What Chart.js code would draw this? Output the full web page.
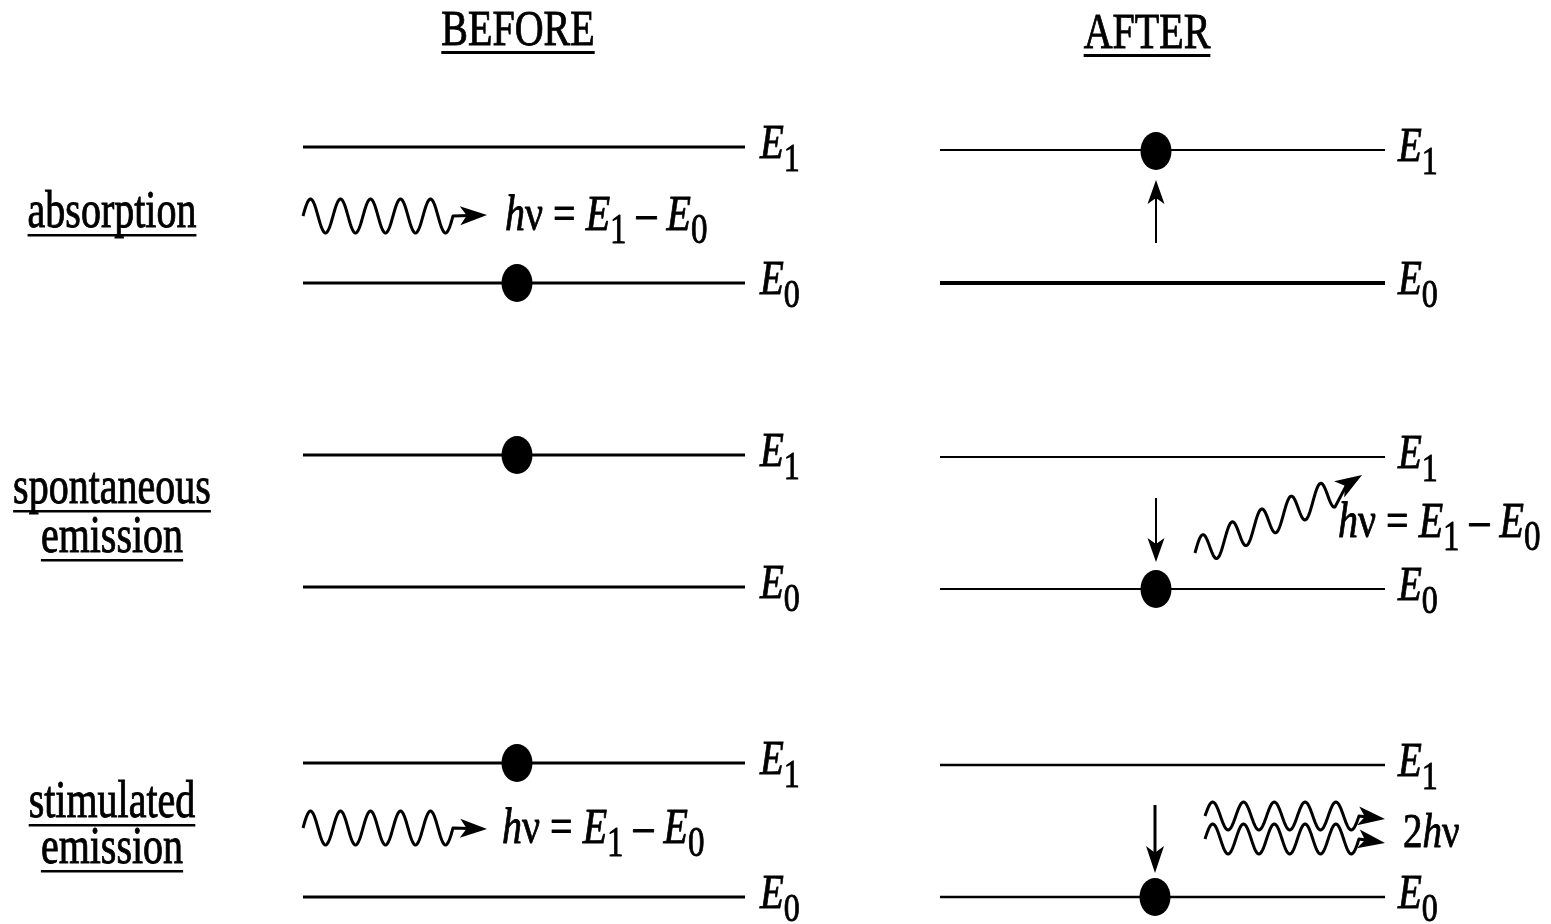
<!DOCTYPE html>
<html>
<head>
<meta charset="utf-8">
<script src="https://cdn.jsdelivr.net/npm/chart.js@4.4.0/dist/chart.umd.min.js"></script>
<style>
  html, body { margin: 0; padding: 0; background: #fff; }
  #wrap { width: 1551px; height: 924px; }
</style>
</head>
<body>
<div id="wrap"><canvas id="c"></canvas></div>
<script>
const SERIF = '"Liberation Serif", "DejaVu Serif", serif';

// diagram values, in picture units (x to the right, y downwards)
const headers = ['BEFORE', 'AFTER'];
const headerX = [518, 1147];
const headerY = [45, 48];
const rowNames = [['absorption'], ['spontaneous', 'emission'], ['stimulated', 'emission']];
const rowNameY = [[227], [503, 552], [817, 863]];
const beforeX = [303, 745];
const afterX = [940, 1385];
const beforeE1 = [147, 455, 763];
const beforeE0 = [283, 587, 897];
const afterE1 = [150, 457, 765];
const afterE0 = [283, 589, 897];
const beforeDots = [{ x: 517, y: 283 }, { x: 517, y: 455 }, { x: 517, y: 763 }];
const afterDots = [{ x: 1156, y: 151 }, { x: 1156, y: 589 }, { x: 1155, y: 897 }];
const jumps = [[1156, 243, 180], [1156, 498, 562], [1155, 805, 873]]; // x, from y, to y
const photons = [
  { from: [303, 216], to: [453, 216], n: 5, amp: 17, tip: [487, 215] },
  { from: [1195, 553], to: [1335, 492], n: 4.75, amp: 15, tip: [1362, 475] },
  { from: [303, 828], to: [453, 828], n: 5, amp: 17, tip: [487, 829] },
  { from: [1205, 816], to: [1359, 816], n: 5, amp: 14, tip: [1385, 819] },
  { from: [1205, 839], to: [1359, 839], n: 5, amp: 15, tip: [1385, 843] }
];
const photonLabels = [[505, 230], [1338, 537], [502, 843]];
const twoPhotonLabel = [1403, 847];

// electron marker: a slightly tall ellipse
const dot = document.createElement('canvas');
dot.width = 32; dot.height = 40;
(function () {
  const g = dot.getContext('2d');
  g.fillStyle = '#000';
  g.beginPath();
  g.ellipse(16, 20, 15.5, 19, 0, 0, Math.PI * 2);
  g.fill();
})();

function seg(x0, x1, y, width, order) {
  return {
    data: [{ x: x0, y: y }, { x: x1, y: y }],
    showLine: true, borderColor: '#000', borderWidth: width,
    pointRadius: 0, order: order, clip: false
  };
}

const datasets = [];
datasets.push({ data: beforeDots.concat(afterDots), pointStyle: dot, pointRadius: 16, order: 0, clip: false });
const afterE1W = [2, 2, 2.5];
const afterE0W = [4, 2, 2.5];
for (let i = 0; i < 3; i++) {
  datasets.push(seg(beforeX[0], beforeX[1], beforeE1[i], 3, 2));
  datasets.push(seg(beforeX[0], beforeX[1], beforeE0[i], 3, 2));
  datasets.push(seg(afterX[0], afterX[1], afterE1[i], afterE1W[i], 2));
  datasets.push(seg(afterX[0], afterX[1], afterE0[i], afterE0W[i], 2));
}
jumps.forEach((j, i) => {
  datasets.push({
    data: [{ x: j[0], y: j[1] }, { x: j[0], y: j[2] + (j[2] > j[1] ? -14 : 14) }],
    showLine: true, borderColor: '#000', borderWidth: i === 2 ? 3 : 2,
    pointRadius: 0, order: 1, clip: false
  });
});

function arrowHead(ctx, tx, ty, ang, len, wid) {
  ctx.save();
  ctx.translate(tx, ty);
  ctx.rotate(ang);
  ctx.beginPath();
  ctx.moveTo(0, 0);
  ctx.lineTo(-len, -wid / 2);
  ctx.lineTo(-len * 0.75, 0);
  ctx.lineTo(-len, wid / 2);
  ctx.closePath();
  ctx.fill();
  ctx.restore();
}

function drawParts(ctx, x, y, parts, size, sy, align) {
  const fontFor = k => (k === 'i' ? 'italic ' : '') + (k === 's' ? Math.round(size * 0.82) : size) + 'px ' + SERIF;
  let w = 0;
  parts.forEach(p => { ctx.font = fontFor(p[1]); w += ctx.measureText(p[0]).width; });
  let cx = align === 'center' ? x - w / 2 : x;
  ctx.save();
  ctx.translate(0, y);
  ctx.scale(1, sy);
  ctx.lineWidth = 0.7;
  parts.forEach(p => {
    ctx.font = fontFor(p[1]);
    const dy = p[1] === 's' ? 13 / sy : 0;
    ctx.fillText(p[0], cx, dy);
    ctx.strokeText(p[0], cx, dy);
    cx += ctx.measureText(p[0]).width;
  });
  ctx.restore();
  return w;
}

const hvParts = [['h', 'i'], ['\u03bd', 'n'], [' = ', 'n'], ['E', 'i'], ['1', 's'], [' \u2013 ', 'n'], ['E', 'i'], ['0', 's']];

const diagram = {
  id: 'diagram',
  afterDatasetsDraw(chart) {
    const ctx = chart.ctx;
    const X = v => chart.scales.x.getPixelForValue(v);
    const Y = v => chart.scales.y.getPixelForValue(v);
    ctx.save();
    ctx.fillStyle = '#000';
    ctx.strokeStyle = '#000';
    ctx.textBaseline = 'alphabetic';

    // headers
    headers.forEach((h, i) => {
      const w = drawParts(ctx, X(headerX[i]), Y(headerY[i]), [[h, 'n']], 40, 1.25, 'center');
      ctx.fillRect(X(headerX[i]) - w / 2, Y(headerY[i]) + 6, w, 3);
    });

    // row names
    rowNames.forEach((lines, r) => {
      lines.forEach((t, k) => {
        const w = drawParts(ctx, X(112), Y(rowNameY[r][k]), [[t, 'n']], 40, 1.32, 'center');
        ctx.fillRect(X(112) - w / 2, Y(rowNameY[r][k]) + 7, w, 2.5);
      });
    });

    // level labels
    const lvl = (x, y, d) => drawParts(ctx, X(x), Y(y) + 11, [['E', 'i'], [d, 's']], 39, 1.22, 'left');
    for (let i = 0; i < 3; i++) {
      lvl(760, beforeE1[i], '1'); lvl(760, beforeE0[i], '0');
      lvl(1398, afterE1[i], '1'); lvl(1398, afterE0[i], '0');
    }

    // transition arrow heads
    jumps.forEach((j, i) => {
      const up = j[2] < j[1];
      arrowHead(ctx, X(j[0]), Y(j[2]), up ? -Math.PI / 2 : Math.PI / 2, i === 2 ? 27 : 24, i === 2 ? 18 : 17);
    });

    // photons
    ctx.lineWidth = 3;
    ctx.lineJoin = 'round';
    photons.forEach(p => {
      const x0 = X(p.from[0]), y0 = Y(p.from[1]), x1 = X(p.to[0]), y1 = Y(p.to[1]);
      ctx.beginPath();
      const steps = 200;
      for (let s = 0; s <= steps; s++) {
        const t = s / steps;
        const xx = x0 + (x1 - x0) * t;
        const yy = y0 + (y1 - y0) * t - p.amp * Math.sin(2 * Math.PI * p.n * t);
        if (s === 0) ctx.moveTo(xx, yy); else ctx.lineTo(xx, yy);
      }
      const tx = X(p.tip[0]), ty = Y(p.tip[1]);
      const ang = Math.atan2(ty - y1, tx - x1);
      ctx.lineTo(tx - Math.cos(ang) * 18, ty - Math.sin(ang) * 18);
      ctx.stroke();
      arrowHead(ctx, tx, ty, ang, 27, 19);
    });

    // photon energy labels
    photonLabels.forEach(l => drawParts(ctx, X(l[0]), Y(l[1]), hvParts, 40, 1.25, 'left'));
    drawParts(ctx, X(twoPhotonLabel[0]), Y(twoPhotonLabel[1]), [['2', 'n'], ['h', 'i'], ['\u03bd', 'n']], 39, 1.25, 'left');

    ctx.restore();
  }
};

new Chart(document.getElementById('c'), {
  type: 'scatter',
  data: { datasets: datasets },
  options: {
    responsive: true,
    maintainAspectRatio: false,
    animation: false,
    events: [],
    layout: { padding: 0, autoPadding: false },
    plugins: { legend: { display: false }, tooltip: { enabled: false } },
    scales: {
      x: { type: 'linear', min: 0, max: 1551, display: false },
      y: { type: 'linear', min: 0, max: 924, reverse: true, display: false }
    }
  },
  plugins: [diagram]
});
</script>
</body>
</html>
